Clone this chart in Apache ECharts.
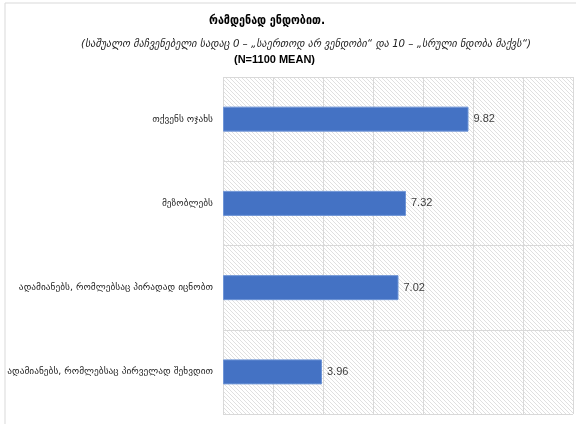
<!DOCTYPE html>
<html><head><meta charset="utf-8">
<script src="https://cdn.jsdelivr.net/npm/echarts@6/dist/echarts.min.js"></script>
<style>html,body{margin:0;padding:0;background:#fff}#c{width:576px;height:424px}</style>
</head><body><div id="c"></div>
<script>
const categories = ["თქვენს ოჯახს", "მეზობლებს", "ადამიანებს, რომლებსაც პირადად იცნობთ", "ადამიანებს, რომლებსაც პირველად შეხვდით"];
const values = [9.82, 7.32, 7.02, 3.96];
const titleText = "რამდენად ენდობით.";
const subtitleText = "(საშუალო მაჩვენებელი სადაც 0 – „საერთოდ არ ვენდობი“ და 10 – „სრული ნდობა მაქვს“)";
const nText = "(N=1100 MEAN)";

const pc = document.createElement('canvas');
pc.width = 4; pc.height = 4;
const g = pc.getContext('2d');
g.fillStyle = '#ffffff'; g.fillRect(0,0,4,4);
g.strokeStyle = '#e0e0e0'; g.lineWidth = 1;
g.beginPath(); g.moveTo(-1,-1); g.lineTo(5,5); g.moveTo(-1,3); g.lineTo(1,5); g.moveTo(3,-1); g.lineTo(5,1); g.stroke();

const chart = echarts.init(document.getElementById('c'), null, {renderer:'canvas'});
chart.setOption({
  backgroundColor: '#fff',
  animation: false,
  graphic: [
    {type:'rect', shape:{x:5, y:3, width:580, height:430}, style:{fill:'none', stroke:'#d9d9d9', lineWidth:1}},
    {type:'text', style:{text:titleText, x:267, y:21, textAlign:'center', textVerticalAlign:'middle', font:'bold 12px "DejaVu Sans Condensed", "DejaVu Sans", sans-serif', fill:'#000'}}
  ],
  title: [
    {text: subtitleText, left: 76, top: 34, textStyle:{fontSize:10.2, fontStyle:'italic', fontWeight:'normal', color:'#222', fontFamily:'"DejaVu Sans", sans-serif'}},
    {text: nText, left: 229, top: 49, textStyle:{fontSize:11, fontWeight:'bold', color:'#000', fontFamily:'"Liberation Sans", Arial, sans-serif'}}
  ],
  grid: {left: 223, right: 3, top: 77, bottom: 10, outerBoundsMode: 'none', containLabel: false, show: true, backgroundColor: {image: pc, repeat: 'repeat'}, borderWidth: 0},
  xAxis: {type:'value', min:0, max:14, interval:2, axisLabel:{show:false}, axisLine:{show:false}, axisTick:{show:false},
    splitLine:{show:true, lineStyle:{color:'#d9d9d9', width:1}}},
  yAxis: {type:'category', data: categories, inverse:true, axisLine:{show:false}, axisTick:{show:false},
    axisLabel:{margin:10, fontSize:9.4, color:'#222', fontFamily:'"DejaVu Sans", sans-serif'},
    splitLine:{show:true, lineStyle:{color:'#d9d9d9', width:1}}},
  series: [{type:'bar', data: values, barWidth: 25,
    itemStyle:{color:'#4472C4', borderColor:'#6f95d6', borderWidth:1},
    label:{show:true, position:'right', distance:5, formatter: p => p.value.toFixed(2), fontSize:11, color:'#404040', fontFamily:'"Liberation Sans", Arial, sans-serif'}}]
});
</script></body></html>
